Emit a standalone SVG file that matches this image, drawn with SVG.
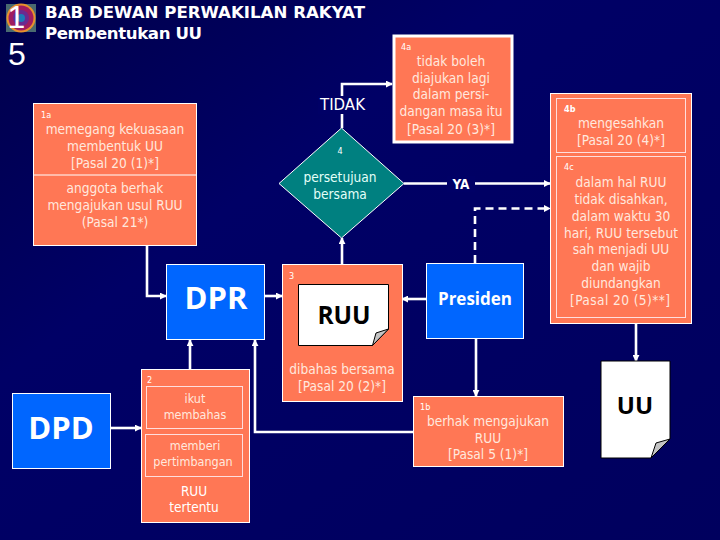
<svg xmlns="http://www.w3.org/2000/svg" width="720" height="540" viewBox="0 0 720 540">
<style>
text{font-family:"DejaVu Sans Condensed","DejaVu Sans",sans-serif;fill:#fff;text-anchor:middle}
.b{fill:#ff7755;stroke:#fff;stroke-width:1}
.i{fill:none;stroke:#fdd;stroke-width:1}
.bl{fill:#0066ff;stroke:#fff;stroke-width:1}
.t{font-size:13.600px;fill:#ffe8de}
.s{font-size:9px;text-anchor:start;fill:#fff}
.h{font-family:"Open Sans","DejaVu Sans",sans-serif;font-weight:700}
.c{fill:none;stroke:#fff;stroke-width:2.6}
.d{stroke-dasharray:8 5}
.doc{fill:#fff;stroke:#000;stroke-width:1}
.fold{fill:#c4c4c4;stroke:#000;stroke-width:1}
.m{font-size:12.500px;fill:#ffe8de}
.ttl{font-family:"DejaVu Sans",sans-serif;font-weight:700;font-size:16.600px;text-anchor:start}
.big{font-family:"Liberation Sans",sans-serif}
</style>
<defs>
<marker id="a" viewBox="0 0 8 8" refX="7" refY="4" markerWidth="7" markerHeight="7" markerUnits="userSpaceOnUse" orient="auto"><path d="M0 0L8 4L0 8z" fill="#fff"/></marker>
<linearGradient id="bg" x1="0" y1="0" x2="1" y2="1"><stop offset="0" stop-color="#00004a"/><stop offset=".35" stop-color="#000066"/><stop offset="1" stop-color="#00005e"/></linearGradient>
</defs>
<rect width="720" height="540" fill="url(#bg)"/>
<g id="logo">
<rect x="6" y="4" width="30" height="28" fill="#4a6a70"/>
<circle cx="21" cy="18" r="14.500" fill="#e8902c"/>
<circle cx="21" cy="18" r="12.500" fill="#a01c60"/>
<circle cx="21" cy="18" r="8" fill="#6a2a90"/>
<circle cx="21" cy="18" r="4" fill="#1c7ab8"/>
<text class="big" x="16.500" y="28" font-size="32">1</text>
<text class="big" x="17" y="65" font-size="32">5</text>
</g>
<g id="title">
<text class="ttl" x="45" y="18" textLength="320">BAB DEWAN PERWAKILAN RAKYAT</text>
<text class="ttl" x="45" y="39" textLength="157">Pembentukan UU</text>
</g>
<g id="connectors">
<path class="c" d="M147 245V296H166" marker-end="url(#a)"/>
<path class="c" d="M264 296H282" marker-end="url(#a)"/>
<path class="c" d="M426 299H402" marker-end="url(#a)"/>
<path class="c" d="M476 338V396" marker-end="url(#a)"/>
<path class="c" d="M413 432H255V340" marker-end="url(#a)"/>
<path class="c" d="M190 369V340" marker-end="url(#a)"/>
<path class="c" d="M110 428H141" marker-end="url(#a)"/>
<path class="c" d="M342 264V238" marker-end="url(#a)"/>
<path class="c" d="M342 128V84H392" marker-end="url(#a)"/>
<path class="c" d="M404 183.500H550" marker-end="url(#a)"/>
<path class="c d" d="M475 263V208.500H550" marker-end="url(#a)"/>
<path class="c" d="M636 323V361" marker-end="url(#a)"/>
</g>
<g id="n1a">
<rect class="b" x="33.500" y="103.500" width="163" height="142"/>
<line x1="33.500" y1="175" x2="196.500" y2="175" stroke="#fff"/>
<text class="s" x="41" y="118">1a</text>
<text class="t" x="115" y="134">memegang kekuasaan</text>
<text class="t" x="115" y="151">membentuk UU</text>
<text class="t" x="115" y="168">[Pasal 20 (1)*]</text>
<text class="t" x="115" y="193">anggota berhak</text>
<text class="t" x="115" y="210">mengajukan usul RUU</text>
<text class="t" x="115" y="227">(Pasal 21*)</text>
</g>
<g id="n4a">
<rect x="394" y="36" width="118" height="106" fill="#ff7755" stroke="#fff" stroke-width="3"/>
<text class="s" x="401" y="50">4a</text>
<text class="t" x="451" y="66">tidak boleh</text>
<text class="t" x="451" y="83">diajukan lagi</text>
<text class="t" x="451" y="99">dalam persi-</text>
<text class="t" x="451" y="116">dangan masa itu</text>
<text class="t" x="451" y="134">[Pasal 20 (3)*]</text>
</g>
<g id="tidak-label"><rect x="318" y="96" width="48" height="18" fill="#000066"/><text x="342.500" y="110" font-size="15" style="font-family:'DejaVu Sans',sans-serif">TIDAK</text></g>
<g id="ya-label"><rect x="447" y="176" width="28" height="16" fill="#000066"/><text x="461" y="189" font-size="13.500" font-weight="700">YA</text></g>
<g id="n4">
<polygon points="341.500,128 404,183.500 341.500,238 279,183.500" fill="#008080" stroke="#fff"/>
<text x="340" y="154" font-size="9">4</text>
<text class="t" x="340" y="182" style="fill:#e4fff8">persetujuan</text>
<text class="t" x="340" y="199" style="fill:#e4fff8">bersama</text>
</g>
<g id="n4bc">
<rect class="b" x="550.500" y="93.500" width="141" height="230"/>
<rect class="i" x="556.500" y="98.500" width="129" height="54"/>
<rect class="i" x="556.500" y="156.500" width="129" height="161"/>
<text class="s" x="564" y="112" font-weight="700">4b</text>
<text class="t" x="621" y="128">mengesahkan</text>
<text class="t" x="621" y="145">[Pasal 20 (4)*]</text>
<text class="s" x="564" y="170">4c</text>
<text class="t" x="621" y="187">dalam hal RUU</text>
<text class="t" x="621" y="204">tidak disahkan,</text>
<text class="t" x="621" y="221">dalam waktu 30</text>
<text class="t" x="621" y="238" textLength="114">hari, RUU tersebut</text>
<text class="t" x="621" y="254">sah menjadi UU</text>
<text class="t" x="621" y="271">dan wajib</text>
<text class="t" x="621" y="288">diundangkan</text>
<text class="t" x="620" y="305" textLength="100">[Pasal 20 (5)**]</text>
</g>
<g id="dpr">
<rect class="bl" x="166.500" y="264.500" width="98" height="75"/>
<text class="h" x="216" y="309" font-size="31">DPR</text>
</g>
<g id="dpd">
<rect class="bl" x="12.500" y="393.500" width="98" height="75"/>
<text class="h" x="61" y="439" font-size="31">DPD</text>
</g>
<g id="n2">
<rect class="b" x="141.500" y="369.500" width="108" height="153"/>
<rect class="i" x="146.500" y="386.500" width="96" height="42"/>
<rect class="i" x="145.500" y="434.500" width="97" height="42"/>
<text class="s" x="147" y="383">2</text>
<text class="m" x="195" y="403">ikut</text>
<text class="m" x="195" y="419">membahas</text>
<text class="m" x="195" y="450">memberi</text>
<text class="m" x="193" y="466">pertimbangan</text>
<text x="194" y="496" font-size="13.500">RUU</text>
<text x="194" y="512" font-size="13.500">tertentu</text>
</g>
<g id="n3">
<rect class="b" x="282.500" y="264.500" width="120" height="137"/>
<text class="s" x="289" y="279">3</text>
<path class="doc" d="M298.500 284.500H388.500V329L372.500 345.500H298.500Z"/>
<path class="fold" d="M372.500 345.500L376 333L388.500 329Z"/>
<text class="h" x="344" y="324" font-size="24.500" style="fill:#000">RUU</text>
<text class="t" x="342" y="374">dibahas bersama</text>
<text class="t" x="342" y="391">[Pasal 20 (2)*]</text>
</g>
<g id="presiden">
<rect class="bl" x="426.500" y="263.500" width="97" height="75"/>
<text class="h" x="475" y="305" font-size="17">Presiden</text>
</g>
<g id="n1b">
<rect class="b" x="413.500" y="396.500" width="150" height="70"/>
<text class="s" x="420" y="410">1b</text>
<text class="t" x="488" y="426">berhak mengajukan</text>
<text class="t" x="488" y="443">RUU</text>
<text class="t" x="488" y="459">[Pasal 5 (1)*]</text>
</g>
<g id="uu">
<path class="doc" d="M601 361H670V439L651 458H601Z"/>
<path class="fold" d="M651 458L656 443L670 439Z"/>
<text class="h" x="635" y="414" font-size="24" style="fill:#000">UU</text>
</g>
</svg>
